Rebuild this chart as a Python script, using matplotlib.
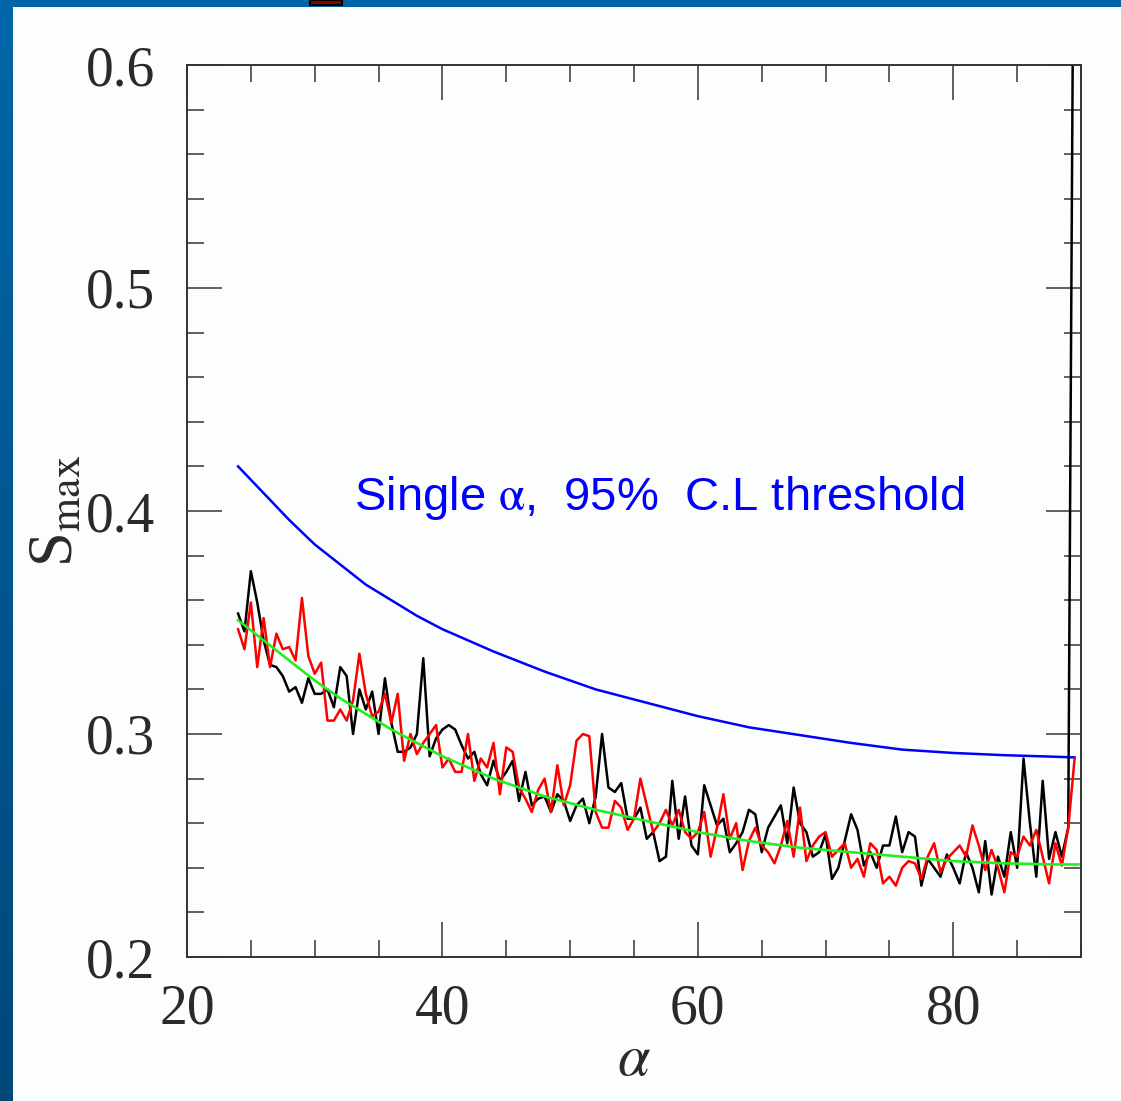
import numpy as np
import matplotlib
matplotlib.use('Agg')
import matplotlib.pyplot as plt
from matplotlib.patches import Rectangle
from matplotlib.colors import LinearSegmentedColormap
from matplotlib.ticker import MultipleLocator

# data
alpha = np.arange(24.0, 90.0, 0.5)   # 132 scan angles

s_black = [
    0.354, 0.346, 0.373, 0.359, 0.342, 0.331, 0.330, 0.326, 0.319, 0.321,
    0.314, 0.325, 0.318, 0.318, 0.320, 0.312, 0.330, 0.326, 0.300, 0.320,
    0.311, 0.319, 0.300, 0.325, 0.305, 0.292, 0.292, 0.294, 0.300, 0.334,
    0.290, 0.298, 0.302, 0.304, 0.302, 0.295, 0.289, 0.292, 0.282, 0.277,
    0.288, 0.279, 0.283, 0.288, 0.270, 0.283, 0.268, 0.271, 0.272, 0.265,
    0.273, 0.270, 0.261, 0.268, 0.271, 0.260, 0.272, 0.300, 0.276, 0.274,
    0.278, 0.262, 0.262, 0.267, 0.253, 0.256, 0.243, 0.245, 0.279, 0.253,
    0.272, 0.250, 0.246, 0.277, 0.268, 0.259, 0.262, 0.247, 0.251, 0.256,
    0.266, 0.264, 0.247, 0.258, 0.263, 0.268, 0.251, 0.276, 0.260, 0.256,
    0.245, 0.247, 0.255, 0.235, 0.240, 0.252, 0.264, 0.257, 0.241, 0.247,
    0.240, 0.250, 0.250, 0.263, 0.247, 0.256, 0.254, 0.232, 0.244, 0.240,
    0.236, 0.246, 0.240, 0.233, 0.247, 0.240, 0.229, 0.252, 0.228, 0.245,
    0.236, 0.256, 0.240, 0.289, 0.260, 0.236, 0.279, 0.244, 0.256, 0.245,
    0.258, 0.750,
]

s_red = [
    0.347, 0.338, 0.359, 0.330, 0.352, 0.330, 0.345, 0.338, 0.339, 0.333,
    0.361, 0.335, 0.327, 0.332, 0.306, 0.306, 0.311, 0.306, 0.315, 0.336,
    0.318, 0.308, 0.310, 0.318, 0.305, 0.318, 0.288, 0.300, 0.291, 0.296,
    0.300, 0.304, 0.285, 0.289, 0.283, 0.283, 0.300, 0.279, 0.289, 0.285,
    0.296, 0.273, 0.294, 0.292, 0.276, 0.271, 0.265, 0.275, 0.280, 0.265,
    0.286, 0.268, 0.277, 0.297, 0.300, 0.299, 0.265, 0.258, 0.258, 0.270,
    0.267, 0.257, 0.262, 0.280, 0.268, 0.256, 0.260, 0.266, 0.259, 0.266,
    0.256, 0.253, 0.256, 0.265, 0.245, 0.258, 0.273, 0.253, 0.260, 0.239,
    0.252, 0.258, 0.250, 0.247, 0.242, 0.250, 0.261, 0.245, 0.267, 0.243,
    0.250, 0.254, 0.256, 0.245, 0.248, 0.251, 0.240, 0.244, 0.236, 0.251,
    0.248, 0.233, 0.236, 0.232, 0.240, 0.243, 0.242, 0.235, 0.245, 0.251,
    0.238, 0.244, 0.247, 0.250, 0.245, 0.259, 0.250, 0.239, 0.248, 0.240,
    0.229, 0.247, 0.245, 0.254, 0.250, 0.257, 0.245, 0.233, 0.251, 0.241,
    0.258, 0.289,
]

fit_alpha = [24, 26, 28, 30, 32, 34, 36, 38, 40, 44, 48, 52, 56, 60, 64, 68,
             72, 76, 80, 84, 88, 89.8]
fit_green = [0.351, 0.342, 0.333, 0.324, 0.316, 0.309, 0.302, 0.296, 0.290,
             0.280, 0.272, 0.266, 0.261, 0.256, 0.252, 0.249, 0.247, 0.245,
             0.243, 0.242, 0.2415, 0.2415]

cl_alpha = [24, 26, 28, 30, 32, 34, 36, 38, 40, 44, 48, 52, 56, 60, 64, 68,
            72, 76, 80, 84, 88, 89.5]
cl_blue = [0.420, 0.408, 0.396, 0.385, 0.376, 0.367, 0.360, 0.353, 0.347,
           0.337, 0.328, 0.320, 0.314, 0.308, 0.303, 0.2995, 0.296, 0.293,
           0.2915, 0.2905, 0.2898, 0.2895]

plt.rcParams['font.family'] = ['Liberation Serif', 'DejaVu Serif']
plt.rcParams['mathtext.fontset'] = 'stix'

W, H = 1121, 1101
fig = plt.figure(figsize=(W / 100, H / 100), dpi=100)
fig.patch.set_facecolor('#0064A8')

# slide background: white panel, gradient strip on the left
bg = fig.add_axes([0, 0, 1, 1], zorder=-5)
bg.set_xlim(0, W)
bg.set_ylim(H, 0)
bg.axis('off')
cmap = LinearSegmentedColormap.from_list('strip', ['#0066AA', '#004878'])
bg.imshow(np.linspace(0, 1, 256).reshape(-1, 1), aspect='auto', cmap=cmap,
          extent=(0, 13, H, 0))
bg.add_patch(Rectangle((13, 7), W - 13, H - 7, facecolor='#FCFEFD',
                       edgecolor='none'))
bg.add_patch(Rectangle((310, 0), 32, 5, facecolor='#8B0000',
                       edgecolor='black', lw=1.5))

ax = fig.add_axes([187 / W, (H - 957) / H, 894 / W, 892 / H])
ax.set_facecolor('none')

ax.plot(cl_alpha, cl_blue, color='#0000FF', lw=1.8)
ax.plot(alpha, s_black, color='black', lw=1.8)
ax.plot(alpha, s_red, color='#FF0000', lw=1.8)
ax.plot(fit_alpha, fit_green, color='#22EE22', lw=1.9)

ax.set_xlim(20, 90)
ax.set_ylim(0.2, 0.6)
ax.xaxis.set_major_locator(MultipleLocator(20))
ax.xaxis.set_minor_locator(MultipleLocator(5))
ax.yaxis.set_major_locator(MultipleLocator(0.1))
ax.yaxis.set_minor_locator(MultipleLocator(0.02))
ax.set_xticks([20, 40, 60, 80])
ax.set_yticks([0.2, 0.3, 0.4, 0.5, 0.6])
ax.set_yticklabels(['0.2', '0.3', '0.4', '0.5', '0.6'])

ax.tick_params(which='both', direction='in', top=True, right=True,
               color='#444444', width=1.2, labelsize=40, labelcolor='#2a2a2a')
ax.tick_params(which='major', length=25)
ax.tick_params(which='minor', length=12.5)
ax.tick_params(axis='x', pad=19)
ax.tick_params(axis='y', pad=23)
for sp in ax.spines.values():
    sp.set_color('#333333')
    sp.set_linewidth(1.4)

ax.set_xlabel(r'$\alpha$', fontsize=42, color='#2a2a2a', labelpad=0)
ax.set_ylabel(r'S$_{\rm max}$', fontsize=45, color='#2a2a2a', labelpad=0)

ax.text(33.1, 0.4004, r'Single $\mathrm{\alpha}$,  95%  C.L threshold',
        color='#0000FF', fontsize=34, family='Liberation Sans',
        ha='left', va='baseline')

plt.savefig('out.png', dpi=100, facecolor=fig.get_facecolor())
